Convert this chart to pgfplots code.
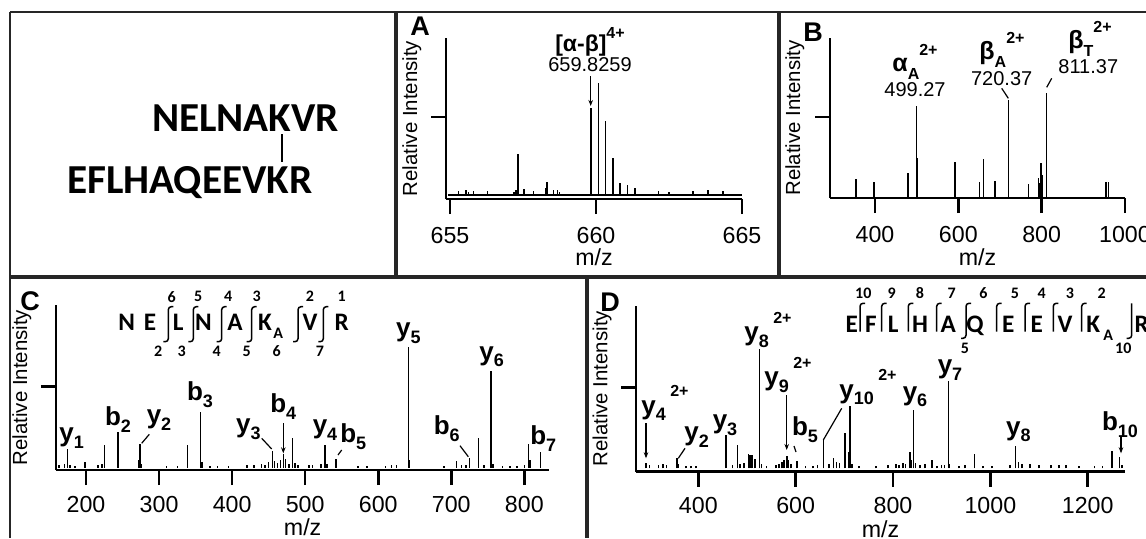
\documentclass[border=0pt]{standalone}
\usepackage{pgfplots}
\pgfplotsset{compat=1.18}
\usepackage{fontspec}
\setmainfont{Liberation Sans}
\newfontfamily\calib{Carlito}
\usetikzlibrary{arrows.meta}

\newcommand{\fs}[1]{\fontsize{#1}{#1}\selectfont}
\newcommand{\ion}[2]{\textbf{#1\raisebox{-0.5ex}{\fs{9}#2}}}
\newcommand{\ionz}[3]{\textbf{#1\raisebox{-0.5ex}{\fs{9}#2}\,\raisebox{1.3ex}{\fs{8}#3}}}

\pgfplotsset{
  spec/.style={
    scale only axis, anchor=south west,
    axis lines=left,
    axis line style={-, line width=1.3pt},
    tick align=outside,
    major tick length=7.5pt,
    tick style={line width=1.3pt, black},
    yticklabels={},
    ticklabel style={font=\fs{11.6}},
    xticklabel style={anchor=center, yshift=-11pt},
    /pgf/number format/assume math mode=true,
    /pgf/number format/1000 sep={},
    xlabel={m/z}, ylabel={Relative Intensity},
    every axis x label/.style={anchor=center, inner sep=0pt, font=\fs{11.6}},
    every axis y label/.style={anchor=center, rotate=90, font=\fs{10.2}},
    clip=false,
  },
  pk/.style={ycomb, black, line width=0.8pt, mark=none},
}

\begin{document}
\begin{tikzpicture}
\useasboundingbox (0pt,0pt) rectangle (573pt,269pt);

% panel A
\begin{axis}[spec, at={(223pt,169.5pt)}, width=148pt, height=80.5pt,
  xmin=654.863, xmax=665, ymin=-4, ymax=157,
  xtick={655,660,665}, ytick={78},
  xlabel style={at={(axis description cs:0.5,-0.36)}},
  ylabel style={at={(axis description cs:-0.115,0.5)}}]
\addplot[black, line width=0.6pt] coordinates {(654.93,0) (665,0)};
\addplot[pk] coordinates {
 (655.29,4)(655.54,4.7)(655.63,3.3)(655.80,4)(656.28,4)(657.19,3.3)(657.27,4.7)
 (657.33,40.7)(657.54,6)(657.86,4)(658.27,7.3)(658.33,13.3)(658.54,4.7)(658.68,5.3)
 (658.75,3.3)(659.83,86.7)(660.08,111.7)(660.33,74)(660.58,36.7)(660.83,12.3)
 (661.08,9.7)(661.33,6.7)(662.14,4)(662.51,3.3)(663.32,4)(663.83,5.3)(664.35,4)};
\end{axis}

% panel B
\begin{axis}[spec, at={(415pt,170pt)}, width=147.5pt, height=80pt,
  xmin=292, xmax=1000, ymin=0, ymax=160,
  xtick={400,600,800,1000}, ytick={81},
  xlabel style={at={(axis description cs:0.5,-0.369)}},
  ylabel style={at={(axis description cs:-0.119,0.5)}}]
\addplot[pk] coordinates {
 (353.7,18.7)(396.9,16.3)(479.2,24.7)(499.27,92)(501.5,40)(592,36.3)(650.4,16.3)
 (660.8,38.7)(688.7,17)(720.37,98)(768.8,13.7)(792,20)(795,15)(798.4,35.3)
 (801.6,23)(811.37,105)(955,16)(960.8,16)};
\end{axis}

% panel C
\begin{axis}[spec, at={(28pt,34pt)}, width=246.65pt, height=82.5pt,
  xmin=158.9, xmax=834.2, ymin=-2.5, ymax=162.5,
  xtick={200,300,...,800}, ytick={80.8},
  xticklabel style={yshift=1pt},
  xlabel style={at={(axis description cs:0.5,-0.345)}},
  ylabel style={at={(axis description cs:-0.069,0.5)}}]
\addplot[pk] coordinates {
 (163,3)(170.3,4)(174.9,18.2)(178,3)(185,2)(198.6,6)(216,3)(222,4)(225.1,22.5)
 (243.4,35.8)(272,8)(273.9,23.5)(276,4)(310,2)(325,2)(338.7,22.5)(356.5,55.2)
 (358.5,6)(370,2)(380,2)(395,2)(420,3)(430,3)(440,4)(445,3)(450,6)(455,16.8)
 (458,7)(462,5)(466,8)(470.1,14)(473,9)(478,4)(482.4,29.2)(486,5)(490,3)(505,3)
 (510,3)(522,4)(527.2,22.5)(530,4)(542.2,9)(572,2)(585,2)(610,2)(618,3)(625,3)
 (641.2,120.8)(643,8)(690,2)(707.4,7)(714,3)(720,3)(724.7,10)(737.5,30)(745,3)
 (754,96.5)(757,4)(770,2)(780,2)(790,2)(800,3)(805.5,23.5)(808,8)(822.4,15.8)};
\end{axis}

% panel D
\begin{axis}[spec, at={(318pt,33.15pt)}, width=244.5pt, height=83pt,
  xmin=272, xmax=1276.6, ymin=-3.4, ymax=162.6,
  xtick={400,600,...,1200}, ytick={81},
  xticklabel style={yshift=1.8pt},
  xlabel style={at={(axis description cs:0.5,-0.345)}},
  ylabel style={at={(axis description cs:-0.0695,0.5)}}]
\addplot[pk] coordinates {
 (292.6,5)(300,3)(318,3)(328,4)(335,3)(355.6,10)(358,4)(375,2)(385,2)(395,2)
 (456.9,33.3)(470,3)(480.1,23.3)(486,4)(494,5)(502.7,14)(506,13)(510,13)(516.5,9)
 (525.3,119.3)(530,4)(540,2)(560,3)(566,4)(572,6)(576,8)(581.6,12)(585,8)(590,4)
 (603,7)(620,2)(635,2)(645,3)(656.8,28.3)(668,4)(677.4,10)(684,6)(690,5)
 (701.4,35)(708.2,16.7)(711.7,62.3)(716,4)(730,2)(765,2)(790,3)(806,4)(812,3)
 (820,5)(826,4)(834.9,16.7)(838,8)(842,58.5)(846,5)(855,3)(866,4)(879.5,8)
 (890,2)(900,3)(906,3)(913.6,87.3)(916,4)(935,2)(948,3)(967,14.3)(985,2)
 (1003,2)(1040,3)(1051.3,22.7)(1058,6)(1065,4)(1082,4)(1100,3)(1125,3)
 (1141,3)(1155,3)(1182,2)(1214,2)(1230,2)(1249.3,17.3)(1264.9,11.7)(1270,3)};
\end{axis}

\begin{scope}[shift={(0pt,269pt)}, x=0.5pt, y=-0.5pt]
% frames
\draw[line width=1.4pt, black!85] (10,12) -- (1146,12);
\draw[line width=1.4pt, black!85] (10,12) -- (10,538);
\draw[line width=2pt, black!85] (395.5,12) -- (395.5,277);
\draw[line width=2pt, black!85] (778.5,12) -- (778.5,277);
\draw[line width=2pt, black!85] (10,277) -- (1146,277);
\draw[line width=2pt, black!85] (587,277) -- (587,538);

% crosslinked peptides
\node[anchor=base west, inner sep=0, font=\calib\bfseries\fs{20.6}] at (151.7,131.6) {NELNAKVR};
\node[anchor=base west, inner sep=0, font=\calib\bfseries\fs{20.6}] at (66.7,193.3) {EFLHAQEEVKR};
\draw[line width=1pt] (281.7,134) -- (281.7,162);

% panel letters
\node[font=\bfseries\fs{13.5}] at (420,26) {A};
\node[font=\bfseries\fs{13.5}] at (813,32) {B};
\node[font=\bfseries\fs{13.5}] at (30,301) {C};
\node[font=\bfseries\fs{13.5}] at (610,302) {D};

% A labels
\node[font=\bfseries\fs{11.5}] at (590,42) {[α-β]\raisebox{1.1ex}{\fs{8}4+}};
\node[font=\fs{10}] at (590,65) {659.8259};
\draw[-{Stealth[length=3pt]}, line width=0.6pt] (590.7,76) -- (590.7,106);

% B labels
\node[font=\bfseries\fs{12.5}, inner sep=1pt] at (915,62) {α\raisebox{-0.6ex}{\fs{8}A}\raisebox{1.2ex}{\fs{8}2+}};
\node[font=\fs{10}, inner sep=1pt] at (915,90) {499.27};
\node[font=\bfseries\fs{12.5}, inner sep=1pt] at (1002,50) {β\raisebox{-0.6ex}{\fs{8}A}\raisebox{1.2ex}{\fs{8}2+}};
\node[font=\fs{10}, inner sep=1pt] at (1001.7,78.3) {720.37};
\node[font=\bfseries\fs{12.5}, inner sep=1pt] at (1090,39) {β\raisebox{-0.6ex}{\fs{8}T}\raisebox{1.2ex}{\fs{8}2+}};
\node[font=\fs{10}, inner sep=1pt] at (1088.3,66.7) {811.37};
\draw[line width=0.6pt] (1001.7,88.3) -- (1008.3,98.3);
\draw[line width=0.6pt] (1051.7,78.3) -- (1046.7,87.3);

% C labels
\begin{scope}[every node/.style={font=\fs{13}}]
\node at (71.7,438.3) {\ion{y}{1}};
\node at (118,420) {\ion{b}{2}};
\node at (159,420) {\ion{y}{2}};
\node at (200,395) {\ion{b}{3}};
\node at (248.3,429) {\ion{y}{3}};
\node at (283.3,406.7) {\ion{b}{4}};
\node at (325,430) {\ion{y}{4}};
\node at (353.3,436.7) {\ion{b}{5}};
\node at (408.3,333.3) {\ion{y}{5}};
\node at (446.7,428.3) {\ion{b}{6}};
\node at (491.7,356.7) {\ion{y}{6}};
\node at (543.3,438.3) {\ion{b}{7}};
\end{scope}
\draw[line width=0.6pt] (149.3,434.3) -- (141.7,443.3);
\draw[line width=0.6pt] (261.7,438.3) -- (271.7,449);
\draw[-{Stealth[length=3pt]}, line width=0.6pt] (283.3,423.3) -- (283.3,453.3);
\draw[line width=0.6pt] (341.7,450) -- (338,455);
\draw[line width=0.6pt] (460,445.7) -- (468.3,456.7);

% C sequence
\begin{scope}[every node/.style={font=\calib\bfseries\fs{12.6}, anchor=base, inner sep=0}]
\foreach \l/\x in {N/126.7, E/150, L/178.3, N/203.3, A/235, K/265, V/310, R/341.7}
  \node at (\x,330.5) {\l};
\node[font=\calib\bfseries\fs{8}] at (278.3,338) {A};
\end{scope}
\foreach \x in {168.3,193.3,221.7,251.7,298,323.3}
  \draw[line width=0.75pt, rounded corners=1.5pt] (\x+5,306.7) -- (\x,306.7) -- (\x,341.7) -- (\x-5,341.7);
\begin{scope}[every node/.style={font=\calib\bfseries\fs{8}}]
\foreach \n/\x in {6/171.7, 5/198.3, 4/228.3, 3/256.7, 2/310, 1/341.7}
  \node at (\x,296.7) {\n};
\foreach \n/\x in {2/158.3, 3/181.7, 4/216.7, 5/246.7, 6/276.7, 7/320}
  \node at (\x,351) {\n};
\end{scope}

% D labels
\begin{scope}[every node/.style={font=\fs{13}}]
\node at (665,403) {\ionz{y}{4}{2+}};
\node at (696.7,436.7) {\ion{y}{2}};
\node at (725,425) {\ion{y}{3}};
\node at (768,330) {\ionz{y}{8}{2+}};
\node at (788,375) {\ionz{y}{9}{2+}};
\node at (805,430) {\ion{b}{5}};
\node at (868,387) {\ionz{y}{10}{2+}};
\node at (915,396.7) {\ion{y}{6}};
\node at (950,370) {\ion{y}{7}};
\node at (1018.3,431.7) {\ion{y}{8}};
\node at (1120,425) {\ion{b}{10}};
\end{scope}
\draw[-{Stealth[length=3pt]}, line width=0.6pt] (646,423.3) -- (646,458.3);
\draw[line width=0.6pt] (685,448.3) -- (678.3,458.3);
\draw[-{Stealth[length=3pt]}, line width=0.6pt] (786.7,395) -- (786.7,450);
\draw[line width=0.6pt] (794,446) -- (796,452);
\draw[line width=0.6pt] (841.7,408.3) -- (823.3,440);
\draw[-{Stealth[length=3pt]}, line width=0.6pt] (1121,436.7) -- (1121,453.3);

% D sequence
\begin{scope}[every node/.style={font=\calib\bfseries\fs{12.6}, anchor=base, inner sep=0}]
\foreach \l/\x in {E/851.7, F/871, L/893.3, H/920, A/948.3, Q/975, E/1008.3, E/1036.7, V/1065, K/1093.3, R/1141.7}
  \node at (\x,332.5) {\l};
\node[font=\calib\bfseries\fs{8}] at (1108.3,340) {A};
\end{scope}
\foreach \x in {860,881.7,908.3,936.7,996.7,1025,1053.3,1081.7}
  \draw[line width=0.75pt, rounded corners=1.5pt] (\x,331.7) -- (\x,303.3) -- (\x+5,303.3);
\draw[line width=0.75pt, rounded corners=1.5pt] (971,303.3) -- (966,303.3) -- (966,338.3) -- (961,338.3);
\draw[line width=0.75pt, rounded corners=1.5pt] (1131.7,303.3) -- (1131.7,338.3) -- (1126.7,338.3);
\begin{scope}[every node/.style={font=\calib\bfseries\fs{8}}]
\foreach \n/\x in {10/863.3, 9/891.7, 8/920, 7/951.7, 6/983.3, 5/1015, 4/1041.7, 3/1070, 2/1101.7}
  \node at (\x,293.3) {\n};
\node at (965,348.3) {5};
\node at (1123.3,348.3) {10};
\end{scope}
\end{scope}
\end{tikzpicture}
\end{document}
